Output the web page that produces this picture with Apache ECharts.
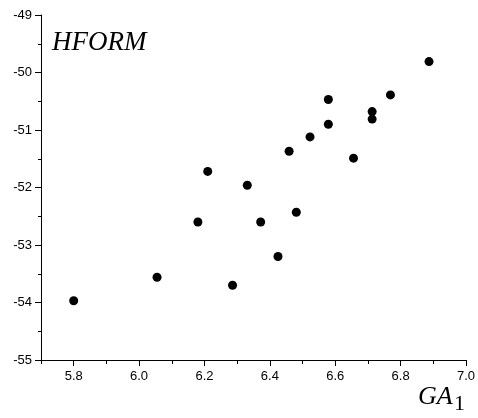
<!DOCTYPE html>
<html>
<head>
<meta charset="utf-8">
<script src="https://cdn.jsdelivr.net/npm/echarts@6/dist/echarts.min.js"></script>
<style>
  html, body { margin: 0; padding: 0; background: #fff; }
  #main { width: 478px; height: 418px; }
</style>
</head>
<body>
<div id="main"></div>
<script>
// values
var gaValues = [5.800, 6.055, 6.180, 6.210, 6.286, 6.331, 6.372, 6.425, 6.459, 6.481,
                6.523, 6.579, 6.579, 6.656, 6.713, 6.713, 6.769, 6.887];
var hformValues = [-53.97, -53.56, -52.60, -51.72, -53.70, -51.96, -52.60, -53.20, -51.37, -52.43,
                   -51.12, -50.47, -50.90, -51.49, -50.68, -50.81, -50.39, -49.81];
var xMajorTicks = [5.8, 6.0, 6.2, 6.4, 6.6, 6.8, 7.0];
var xMinorTicks = [5.7, 5.9, 6.1, 6.3, 6.5, 6.7, 6.9];

var points = gaValues.map(function (x, i) { return [x, hformValues[i]]; });

var chart = echarts.init(document.getElementById('main'), null, { renderer: 'canvas' });
var lab = { color: '#000', fontFamily: '"Liberation Sans", Arial, sans-serif', fontSize: 13 };

chart.setOption({
  animation: false,
  grid: { left: 41, right: 11, top: 15, bottom: 58, containLabel: false },
  xAxis: [{
    type: 'value', min: 5.7, max: 7.0,
    axisLine: { show: true, lineStyle: { color: '#000', width: 1 } },
    axisTick: { show: true, customValues: xMajorTicks, length: 6, lineStyle: { color: '#000' } },
    axisLabel: Object.assign({ customValues: xMajorTicks, margin: 10,
      formatter: function (v) { return v.toFixed(1); } }, lab),
    splitLine: { show: false }
  }, {
    type: 'value', min: 5.7, max: 7.0, position: 'bottom',
    axisLine: { show: false },
    axisTick: { show: true, customValues: xMinorTicks, length: 4, lineStyle: { color: '#000' } },
    axisLabel: { show: false },
    splitLine: { show: false }
  }],
  yAxis: {
    type: 'value', min: -55, max: -49, interval: 1,
    axisLine: { show: true, lineStyle: { color: '#000', width: 1 } },
    axisTick: { show: true, length: 6, lineStyle: { color: '#000' } },
    minorTick: { show: true, splitNumber: 2, length: 3, lineStyle: { color: '#000' } },
    axisLabel: Object.assign({ margin: 9 }, lab),
    splitLine: { show: false }
  },
  graphic: [{
    type: 'text', left: 52, top: 29,
    style: { text: 'HFORM', fill: '#000', fontFamily: '"Liberation Serif", "Times New Roman", serif',
      fontStyle: 'italic', fontSize: 27 }
  }, {
    type: 'text', left: 418, top: 384,
    style: { text: 'GA', fill: '#000', fontFamily: '"Liberation Serif", "Times New Roman", serif',
      fontStyle: 'italic', fontSize: 26 }
  }, {
    type: 'text', left: 454, top: 393,
    style: { text: '1', fill: '#000', fontFamily: '"Liberation Serif", "Times New Roman", serif',
      fontSize: 22 }
  }],
  series: [{
    type: 'scatter',
    data: points,
    symbol: 'circle',
    symbolSize: 9,
    itemStyle: { color: '#000', opacity: 1 }
  }]
});
</script>
</body>
</html>
